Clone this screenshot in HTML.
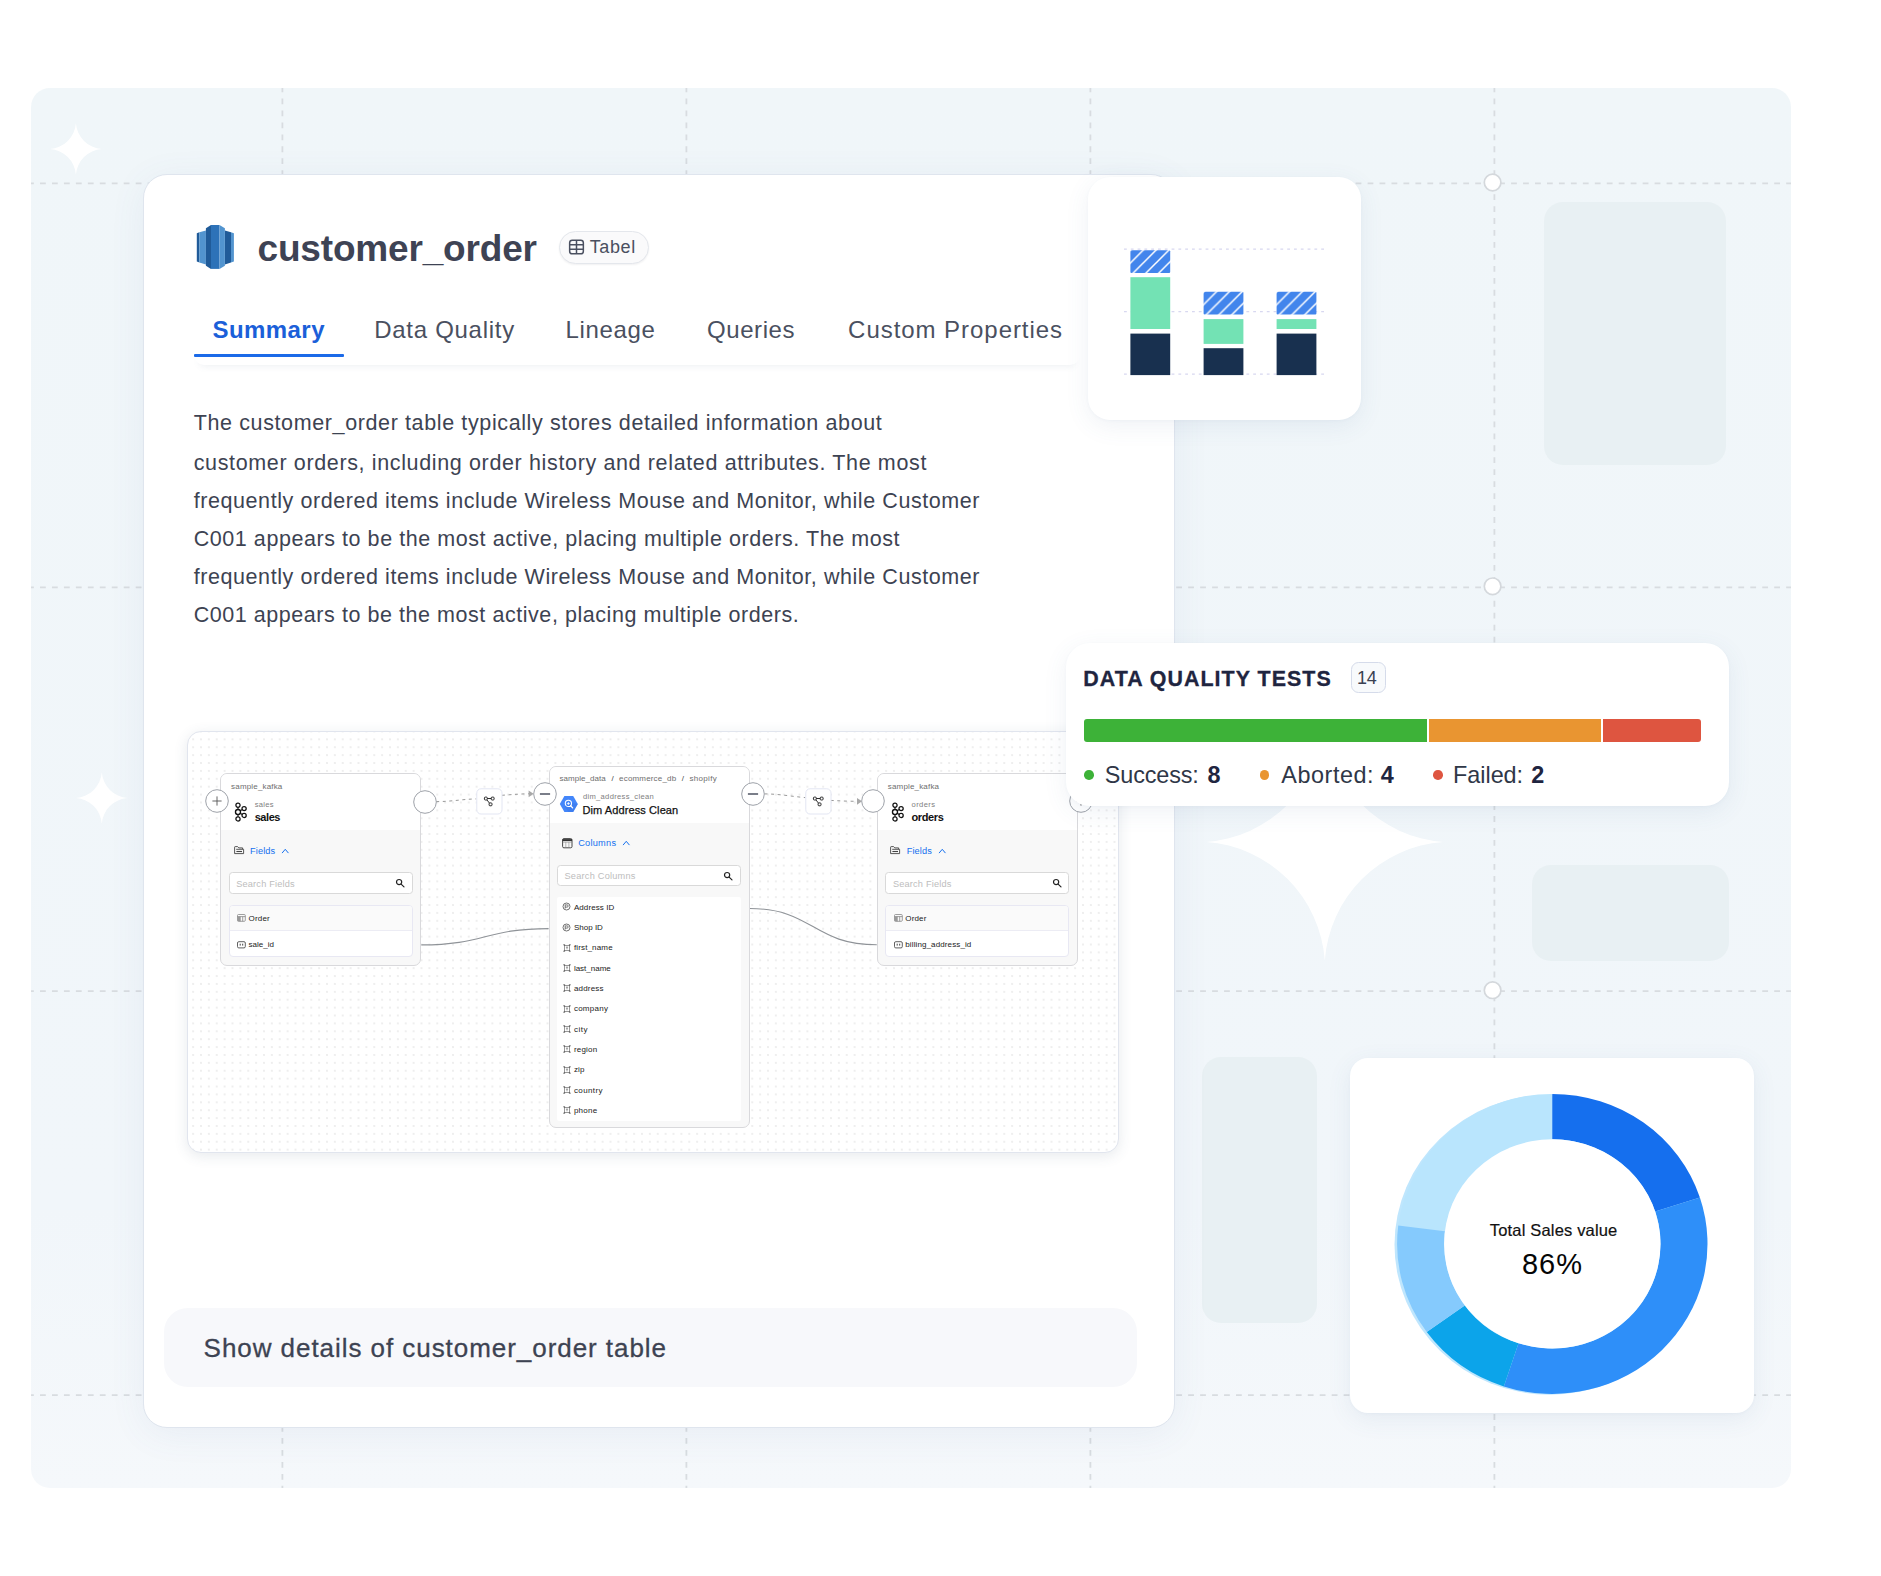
<!DOCTYPE html>
<html lang="en">
<head>
<meta charset="utf-8">
<title>customer_order</title>
<style>
*{box-sizing:border-box;margin:0;padding:0}
html,body{width:1881px;height:1576px;background:#fff;overflow:hidden}
body{position:relative;font-family:"Liberation Sans",sans-serif;color:#3d4352}
.abs{position:absolute}
.t{position:absolute;white-space:pre;line-height:1}
#panel{left:30.5px;top:87.5px;width:1760.5px;height:1400px;border-radius:19px;background:linear-gradient(180deg,#f0f6f9 0%,#f1f6fa 80%,#f5f8fb 100%);overflow:hidden}
.grect{position:absolute;background:#e8f0f3;border-radius:19px}
#main{left:143px;top:174px;width:1031.5px;height:1253.5px;border-radius:24px;background:#fff;border:1px solid #dfe5ee;box-shadow:0 6px 36px rgba(80,110,160,.075)}
#tabs{left:194px;top:300px;width:886px;height:64.5px;border-radius:0 0 10px 10px;background:#fff;box-shadow:0 7px 7px -6px rgba(100,120,150,.12)}
.pill{left:559px;top:230.5px;width:89.5px;height:33px;border-radius:17px;border:1px solid #e4e7ec;background:#fafafb;box-shadow:0 1px 2px rgba(16,24,40,.06)}
#showbox{left:164.2px;top:1307.5px;width:973px;height:79.5px;border-radius:24px;background:#f7f8fb}
#lin{left:187px;top:731px;width:931.5px;height:422px;border-radius:14px;border:1px solid #e1e5ee;background-color:#fff;background-image:radial-gradient(circle,#c6c6c6 0.45px,rgba(198,198,198,0) 0.8px);background-size:7.885px 7.9px;background-position:1.2px 3.4px;box-shadow:0 3px 14px rgba(60,80,110,.12)}
.node{border:1.3px solid #d9d9dc;border-radius:7px;background:#f8f8f8;overflow:hidden}
.nh{background:#fff}
.sbox{border:1px solid #d9d9d9;border-radius:3.5px;background:#fff}
.lbox{border:1px solid #e8e8f3;border-radius:4px;background:#fff;overflow:hidden}
.card{background:#fff;box-shadow:0 6px 24px rgba(70,100,150,.085),0 1px 3px rgba(70,100,150,.04)}
</style>
</head>
<body>
<!-- background panel -->
<div id="panel" class="abs">
<svg class="abs" style="left:0;top:0" width="1761" height="1400" viewBox="30.5 87.5 1761 1400">
<g stroke="#d8dce0" stroke-width="1.8" fill="none" stroke-dasharray="5.8 6.16">
<path d="M281.9 86.05V1489M685.9 86.05V1489M1089.9 86.05V1489M1493.9 86.05V1489"/>
<path d="M27.55 182.8H1793M27.55 586.8H1793M27.55 990.7H1793M27.55 1394.7H1793"/>
</g>
<g fill="#fff" stroke="#d4d8dc" stroke-width="1.7">
<circle cx="1492.1" cy="182" r="8.3"/><circle cx="1492.1" cy="585.8" r="8.3"/><circle cx="1492.1" cy="989.7" r="8.3"/>
</g>
<g fill="#fff">
<path d="M75.4 122.7A27.86 27.86 0 0 0 101.2 148.5A27.86 27.86 0 0 0 75.4 174.3A27.86 27.86 0 0 0 49.60000000000001 148.5A27.86 27.86 0 0 0 75.4 122.7Z"/>
<path d="M101.3 771.7A27.86 27.86 0 0 0 127.1 797.5A27.86 27.86 0 0 0 101.3 823.3A27.86 27.86 0 0 0 75.5 797.5A27.86 27.86 0 0 0 101.3 771.7Z"/>
<path d="M1324.3 722.9A127.98 127.98 0 0 0 1442.8 841.4A127.98 127.98 0 0 0 1324.3 959.9A127.98 127.98 0 0 0 1205.8 841.4A127.98 127.98 0 0 0 1324.3 722.9Z"/>
</g>
</svg>
<div class="grect" style="left:1513px;top:114px;width:182.5px;height:263.5px"></div>
<div class="grect" style="left:1501.3px;top:777px;width:197.2px;height:96.2px"></div>
<div class="grect" style="left:1171.3px;top:969.6px;width:115.5px;height:266px"></div>
</div>

<!-- main card -->
<div id="main" class="abs"></div>
<div id="tabs" class="abs"></div>

<svg class="abs" style="left:196px;top:224px" width="40" height="46" viewBox="196 224 40 46">
<polygon points="196.8,233.2 199.4,232.2 199.4,262.6 196.8,261.6" fill="#205b99"/>
<polygon points="199.4,232.2 205.9,230.4 205.9,264.4 199.4,262.6" fill="#5294cf"/>
<polygon points="224.9,230.4 231,232.2 231,262.6 224.9,264.4" fill="#205b99"/>
<polygon points="231,232.2 233.9,233.2 233.9,261.6 231,262.6" fill="#5294cf"/>
<polygon points="205.9,228.2 211,225 211,268.9 205.9,265.7" fill="#205b99"/>
<polygon points="211,225 219.5,225 219.5,268.9 211,268.9" fill="#2d72b8"/>
<polygon points="219.5,225 224.9,228.2 224.9,265.7 219.5,268.9" fill="#5294cf"/>
</svg>
<div class="t" style="left:257.50px;top:230.00px;font-size:37px;color:#3e4354;font-weight:700;letter-spacing:-0.171px;">customer_order</div>
<div class="abs pill"></div>
<svg class="abs" style="left:567px;top:238px" width="19" height="18" viewBox="567 238 19 18" fill="none" stroke="#4a5060" stroke-width="1.5">
<rect x="569.65" y="240.15" width="13.7" height="13.7" rx="2.6"/><path d="M569.65 244.7H583.35M569.65 249.3H583.35M576.5 240.15V253.85"/></svg>
<div class="t" style="left:589.70px;top:238.00px;font-size:18px;color:#4a5060;letter-spacing:0.617px;">Tabel</div>
<div class="t" style="left:212.50px;top:318.00px;font-size:24px;color:#1b5fd9;font-weight:700;letter-spacing:0.435px;">Summary</div>
<div class="t" style="left:374.20px;top:318.00px;font-size:24px;color:#4a5060;letter-spacing:0.722px;">Data Quality</div>
<div class="t" style="left:565.40px;top:318.00px;font-size:24px;color:#4a5060;letter-spacing:0.680px;">Lineage</div>
<div class="t" style="left:707.00px;top:318.00px;font-size:24px;color:#4a5060;letter-spacing:0.576px;">Queries</div>
<div class="t" style="left:848.10px;top:318.00px;font-size:24px;color:#4a5060;letter-spacing:0.953px;">Custom Properties</div>
<div class="abs" style="left:194px;top:354px;width:150.3px;height:3px;background:#1b6ae8;border-radius:1px"></div>
<div class="t" style="left:193.70px;top:413.00px;font-size:21.5px;color:#3d4352;letter-spacing:0.620px;">The customer_order table typically stores detailed information about</div>
<div class="t" style="left:193.70px;top:453.00px;font-size:21.5px;color:#3d4352;letter-spacing:0.638px;">customer orders, including order history and related attributes. The most</div>
<div class="t" style="left:193.70px;top:491.00px;font-size:21.5px;color:#3d4352;letter-spacing:0.575px;">frequently ordered items include Wireless Mouse and Monitor, while Customer</div>
<div class="t" style="left:193.70px;top:529.00px;font-size:21.5px;color:#3d4352;letter-spacing:0.562px;">C001 appears to be the most active, placing multiple orders. The most</div>
<div class="t" style="left:193.70px;top:567.00px;font-size:21.5px;color:#3d4352;letter-spacing:0.575px;">frequently ordered items include Wireless Mouse and Monitor, while Customer</div>
<div class="t" style="left:193.70px;top:605.00px;font-size:21.5px;color:#3d4352;letter-spacing:0.552px;">C001 appears to be the most active, placing multiple orders.</div>
<div id="showbox" class="abs"></div>
<div class="t" style="left:203.60px;top:1335.00px;font-size:26px;color:#3d4352;letter-spacing:0.948px;-webkit-text-stroke:0.3px #3d4352;">Show details of customer_order table</div>

<div class="abs" id="lin"></div>
<svg class="abs" style="left:187px;top:731px" width="932" height="423" viewBox="187 731 932 423" fill="none">
<path d="M421.3 944.9C485 944.9 485 928.6 548.6 928.6" stroke="#8f9398" stroke-width="1.1"/>
<path d="M749.7 908.5C813 908.5 813 944.8 876.8 944.8" stroke="#8f9398" stroke-width="1.1"/>
<path d="M436 801.6C452 801.6 462 799.2 476.3 798.9" stroke="#999" stroke-width="1" stroke-dasharray="3 3.6"/>
<path d="M501.7 795.3C512 794.6 520 793.9 529 793.8" stroke="#999" stroke-width="1" stroke-dasharray="3 3.6"/>
<path d="M528.6 790.4L533.6 793.8L528.6 797.2Z" fill="#a8a8a8"/>
<path d="M764.4 793.9C780 794 792 796.5 805.3 797.6" stroke="#999" stroke-width="1" stroke-dasharray="3 3.6"/>
<path d="M830.6 800.4C842 801 850 801.3 857.5 801.3" stroke="#999" stroke-width="1" stroke-dasharray="3 3.6"/>
<path d="M857 797.9L862 801.3L857 804.7Z" fill="#a8a8a8"/>
</svg>
<div class="abs node" style="left:220.1px;top:773.2px;width:201.1px;height:193.1px"><div class="nh" style="height:56.2px"></div></div>
<div class="t" style="left:231.10px;top:783.00px;font-size:8px;color:#6e6e6e;letter-spacing:0.167px;">sample_kafka</div>
<svg class="abs" style="left:232.85px;top:800.6px" width="16" height="22" viewBox="-5 -11 16 22" fill="#fff" stroke="#111" stroke-width="1.25">
<path d="M0 -6.7V6.8M0 0L6.1 -3.4M0 0L6.1 3.4" fill="none" stroke-width="1.1"/>
<circle cx="0" cy="-6.7" r="2.1"/><circle cx="0" cy="6.9" r="2.1"/><circle cx="6.1" cy="-3.4" r="2.1"/><circle cx="6.1" cy="3.4" r="2.1"/><circle cx="0" cy="0" r="2.5" stroke-width="1.4"/></svg>
<div class="t" style="left:254.80px;top:801.00px;font-size:7.6px;color:#808080;letter-spacing:0.266px;">sales</div>
<div class="t" style="left:254.70px;top:812.00px;font-size:11px;color:#111;font-weight:700;letter-spacing:-0.433px;">sales</div>
<svg class="abs" style="left:233.6px;top:846.2px" width="11" height="9" viewBox="0 0 11 9" fill="none" stroke="#444" stroke-width="0.9" stroke-linejoin="round"><path d="M0.6 7.6V1.2a.6.6 0 0 1 .6-.6H3.6L4.8 1.9H8.6V3.2"/><path d="M0.6 7.6H9.6V3.3H2.2"/><path d="M2.4 5.5H8" stroke-width="1.1"/></svg>
<div class="t" style="left:250.00px;top:847.00px;font-size:9.2px;color:#1570ef;letter-spacing:0.137px;">Fields</div>
<svg class="abs" style="left:280.9px;top:847.5px" width="9" height="7" viewBox="-1 -1 9 7" fill="none" stroke="#1570ef" stroke-width="1" stroke-linecap="round" stroke-linejoin="round"><path d="M0.3 3.8L3.25 0.3L6.2 3.8"/></svg>
<div class="abs sbox" style="left:228.5px;top:872.3px;width:184.2px;height:21.3px"></div>
<div class="t" style="left:236.20px;top:880.00px;font-size:9.2px;color:#bdbdbd;letter-spacing:0.194px;">Search Fields</div>
<svg class="abs" style="left:394.8px;top:878.2px" width="11" height="11" viewBox="-1 -1 11 11" fill="none" stroke="#222" stroke-width="1.2"><circle cx="3.1" cy="3.1" r="2.6"/><path d="M5.1 5.1L8 7.9" stroke-linecap="round"/></svg>
<div class="abs lbox" style="left:228.5px;top:904.5px;width:184.2px;height:52.9px"><div style="height:25.5px;background:#fafafa;border-bottom:1px solid #ececf4"></div></div>
<svg class="abs" style="left:237.4px;top:914px" width="9" height="8" viewBox="0 0 9 8" fill="none" stroke="#888" stroke-width="0.8"><rect x="0.5" y="0.5" width="7.8" height="6.8" rx="1"/><path d="M0.5 2.6H8.3M3.2 2.6V7.3M5.7 2.6V7.3"/><rect x="0.6" y="2.6" width="2.6" height="4.6" fill="#999" stroke="none"/></svg>
<div class="t" style="left:248.60px;top:915.00px;font-size:8px;color:#222;letter-spacing:0.162px;">Order</div>
<svg class="abs" style="left:237.4px;top:940.7px" width="9" height="8" viewBox="0 0 9 8" fill="none" stroke="#444" stroke-width="0.85"><rect x="0.5" y="0.7" width="7.8" height="6.2" rx="1.3"/><path d="M3.2 2.7V4.6M5.7 2.7V4.6" stroke-width="1"/></svg>
<div class="t" style="left:248.60px;top:941.00px;font-size:8px;color:#222;letter-spacing:0.007px;">sale_id</div>
<div class="abs node" style="left:876.8px;top:773.2px;width:201.1px;height:193.1px"><div class="nh" style="height:56.2px"></div></div>
<div class="t" style="left:887.80px;top:783.00px;font-size:8px;color:#6e6e6e;letter-spacing:0.167px;">sample_kafka</div>
<svg class="abs" style="left:889.55px;top:800.6px" width="16" height="22" viewBox="-5 -11 16 22" fill="#fff" stroke="#111" stroke-width="1.25">
<path d="M0 -6.7V6.8M0 0L6.1 -3.4M0 0L6.1 3.4" fill="none" stroke-width="1.1"/>
<circle cx="0" cy="-6.7" r="2.1"/><circle cx="0" cy="6.9" r="2.1"/><circle cx="6.1" cy="-3.4" r="2.1"/><circle cx="6.1" cy="3.4" r="2.1"/><circle cx="0" cy="0" r="2.5" stroke-width="1.4"/></svg>
<div class="t" style="left:911.50px;top:801.00px;font-size:7.6px;color:#808080;letter-spacing:0.414px;">orders</div>
<div class="t" style="left:911.40px;top:812.00px;font-size:11px;color:#111;font-weight:700;letter-spacing:-0.350px;">orders</div>
<svg class="abs" style="left:890.3px;top:846.2px" width="11" height="9" viewBox="0 0 11 9" fill="none" stroke="#444" stroke-width="0.9" stroke-linejoin="round"><path d="M0.6 7.6V1.2a.6.6 0 0 1 .6-.6H3.6L4.8 1.9H8.6V3.2"/><path d="M0.6 7.6H9.6V3.3H2.2"/><path d="M2.4 5.5H8" stroke-width="1.1"/></svg>
<div class="t" style="left:906.70px;top:847.00px;font-size:9.2px;color:#1570ef;letter-spacing:0.137px;">Fields</div>
<svg class="abs" style="left:937.5999999999999px;top:847.5px" width="9" height="7" viewBox="-1 -1 9 7" fill="none" stroke="#1570ef" stroke-width="1" stroke-linecap="round" stroke-linejoin="round"><path d="M0.3 3.8L3.25 0.3L6.2 3.8"/></svg>
<div class="abs sbox" style="left:885.1999999999999px;top:872.3px;width:184.2px;height:21.3px"></div>
<div class="t" style="left:892.90px;top:880.00px;font-size:9.2px;color:#bdbdbd;letter-spacing:0.194px;">Search Fields</div>
<svg class="abs" style="left:1051.5px;top:878.2px" width="11" height="11" viewBox="-1 -1 11 11" fill="none" stroke="#222" stroke-width="1.2"><circle cx="3.1" cy="3.1" r="2.6"/><path d="M5.1 5.1L8 7.9" stroke-linecap="round"/></svg>
<div class="abs lbox" style="left:885.1999999999999px;top:904.5px;width:184.2px;height:52.9px"><div style="height:25.5px;background:#fafafa;border-bottom:1px solid #ececf4"></div></div>
<svg class="abs" style="left:894.0999999999999px;top:914px" width="9" height="8" viewBox="0 0 9 8" fill="none" stroke="#888" stroke-width="0.8"><rect x="0.5" y="0.5" width="7.8" height="6.8" rx="1"/><path d="M0.5 2.6H8.3M3.2 2.6V7.3M5.7 2.6V7.3"/><rect x="0.6" y="2.6" width="2.6" height="4.6" fill="#999" stroke="none"/></svg>
<div class="t" style="left:905.30px;top:915.00px;font-size:8px;color:#222;letter-spacing:0.162px;">Order</div>
<svg class="abs" style="left:894.0999999999999px;top:940.7px" width="9" height="8" viewBox="0 0 9 8" fill="none" stroke="#444" stroke-width="0.85"><rect x="0.5" y="0.7" width="7.8" height="6.2" rx="1.3"/><path d="M3.2 2.7V4.6M5.7 2.7V4.6" stroke-width="1"/></svg>
<div class="t" style="left:905.30px;top:941.00px;font-size:8px;color:#222;letter-spacing:0.115px;">billing_address_id</div>
<div class="abs node" style="left:548.6px;top:766.3px;width:201.1px;height:362px"><div class="nh" style="height:55.6px"></div></div>
<div class="t" style="left:559.40px;top:775.00px;font-size:8px;color:#6e6e6e;letter-spacing:0.059px;">sample_data</div>
<div class="t" style="left:611.40px;top:775.00px;font-size:8px;color:#444;">/</div>
<div class="t" style="left:619.10px;top:775.00px;font-size:8px;color:#6e6e6e;letter-spacing:0.169px;">ecommerce_db</div>
<div class="t" style="left:681.80px;top:775.00px;font-size:8px;color:#444;">/</div>
<div class="t" style="left:689.50px;top:775.00px;font-size:8px;color:#6e6e6e;letter-spacing:0.307px;">shopify</div>
<svg class="abs" style="left:559px;top:795px" width="20" height="18" viewBox="0 0 20 18"><path d="M5.4 0.9H14.2L18.8 8.9L14.2 16.9H5.4L0.8 8.9Z" fill="#4386fa"/><path d="M14.2 16.9H9.5L5.8 11.5L12.6 8L18.8 8.9Z" fill="#3b78e7" opacity=".55"/><circle cx="9.4" cy="8.4" r="3.1" fill="none" stroke="#fff" stroke-width="1.1"/><path d="M11.6 10.8L13.6 12.9" stroke="#fff" stroke-width="1.3" stroke-linecap="round"/><path d="M7.9 8.6H10.9M9.4 7.1V9.9" stroke="#fff" stroke-width="0.8"/></svg>
<div class="t" style="left:582.90px;top:793.00px;font-size:7.6px;color:#808080;letter-spacing:0.309px;">dim_address_clean</div>
<div class="t" style="left:582.40px;top:805.00px;font-size:11px;color:#111;letter-spacing:0.103px;-webkit-text-stroke:0.25px #111;">Dim Address Clean</div>
<svg class="abs" style="left:561.7px;top:837.7px" width="11" height="11" viewBox="0 0 11 11" fill="none" stroke="#333" stroke-width="0.9"><rect x="0.6" y="0.6" width="9.4" height="9.2" rx="1.3"/><path d="M0.6 2.1H10" stroke-width="2"/><path d="M0.6 4.2H10M3.8 4.2V9.8M6.9 4.2V9.8" stroke-width="0.6" stroke="#888"/></svg>
<div class="t" style="left:578.20px;top:839.00px;font-size:9.2px;color:#1570ef;letter-spacing:0.256px;">Columns</div>
<svg class="abs" style="left:621.6px;top:839.6px" width="9" height="7" viewBox="-1 -1 9 7" fill="none" stroke="#1570ef" stroke-width="1" stroke-linecap="round" stroke-linejoin="round"><path d="M0.3 3.8L3.25 0.3L6.2 3.8"/></svg>
<div class="abs sbox" style="left:557.3px;top:865.1px;width:183.4px;height:21px"></div>
<div class="t" style="left:564.50px;top:872.00px;font-size:9.2px;color:#bdbdbd;letter-spacing:0.229px;">Search Columns</div>
<svg class="abs" style="left:722.8px;top:870.6px" width="11" height="11" viewBox="-1 -1 11 11" fill="none" stroke="#222" stroke-width="1.2"><circle cx="3.1" cy="3.1" r="2.6"/><path d="M5.1 5.1L8 7.9" stroke-linecap="round"/></svg>
<div class="abs" style="left:557.3px;top:896.8px;width:183.4px;height:224px;background:#fff;border-radius:2px"></div>
<svg class="abs" style="left:562.3px;top:902.3px" width="9" height="9" viewBox="-4.5 -4.5 9 9" fill="none" stroke="#444" stroke-width="0.75"><circle r="3.5"/><path d="M-1.3 -1.7V2M-1.3 -1.6H0.6a1.1 1.1 0 0 1 0 2.2H-1.3" stroke-width="0.7"/></svg>
<div class="t" style="left:573.90px;top:904.00px;font-size:8px;color:#222;letter-spacing:0.091px;">Address ID</div>
<svg class="abs" style="left:562.3px;top:922.63px" width="9" height="9" viewBox="-4.5 -4.5 9 9" fill="none" stroke="#444" stroke-width="0.75"><circle r="3.5"/><path d="M-1.3 -1.7V2M-1.3 -1.6H0.6a1.1 1.1 0 0 1 0 2.2H-1.3" stroke-width="0.7"/></svg>
<div class="t" style="left:573.90px;top:924.00px;font-size:8px;color:#222;letter-spacing:0.016px;">Shop ID</div>
<svg class="abs" style="left:563px;top:943.56px" width="8" height="8" viewBox="0 0 8 8" fill="none" stroke="#555" stroke-width="0.6"><rect x="1.3" y="1.3" width="5.4" height="5.4"/><path d="M0.3 0.8H2.1M5.9 0.8H7.7M0.3 7.2H2.1M5.9 7.2H7.7" stroke-width="0.9"/><path d="M2.9 3.1H5.1M4 3.1V5.3" stroke-width="0.6"/></svg>
<div class="t" style="left:573.90px;top:944.00px;font-size:8px;color:#222;letter-spacing:0.149px;">first_name</div>
<svg class="abs" style="left:563px;top:963.89px" width="8" height="8" viewBox="0 0 8 8" fill="none" stroke="#555" stroke-width="0.6"><rect x="1.3" y="1.3" width="5.4" height="5.4"/><path d="M0.3 0.8H2.1M5.9 0.8H7.7M0.3 7.2H2.1M5.9 7.2H7.7" stroke-width="0.9"/><path d="M2.9 3.1H5.1M4 3.1V5.3" stroke-width="0.6"/></svg>
<div class="t" style="left:573.90px;top:965.00px;font-size:8px;color:#222;letter-spacing:-0.003px;">last_name</div>
<svg class="abs" style="left:563px;top:984.2199999999999px" width="8" height="8" viewBox="0 0 8 8" fill="none" stroke="#555" stroke-width="0.6"><rect x="1.3" y="1.3" width="5.4" height="5.4"/><path d="M0.3 0.8H2.1M5.9 0.8H7.7M0.3 7.2H2.1M5.9 7.2H7.7" stroke-width="0.9"/><path d="M2.9 3.1H5.1M4 3.1V5.3" stroke-width="0.6"/></svg>
<div class="t" style="left:573.90px;top:985.00px;font-size:8px;color:#222;letter-spacing:0.189px;">address</div>
<svg class="abs" style="left:563px;top:1004.55px" width="8" height="8" viewBox="0 0 8 8" fill="none" stroke="#555" stroke-width="0.6"><rect x="1.3" y="1.3" width="5.4" height="5.4"/><path d="M0.3 0.8H2.1M5.9 0.8H7.7M0.3 7.2H2.1M5.9 7.2H7.7" stroke-width="0.9"/><path d="M2.9 3.1H5.1M4 3.1V5.3" stroke-width="0.6"/></svg>
<div class="t" style="left:573.90px;top:1005.00px;font-size:8px;color:#222;letter-spacing:0.255px;">company</div>
<svg class="abs" style="left:563px;top:1024.8799999999999px" width="8" height="8" viewBox="0 0 8 8" fill="none" stroke="#555" stroke-width="0.6"><rect x="1.3" y="1.3" width="5.4" height="5.4"/><path d="M0.3 0.8H2.1M5.9 0.8H7.7M0.3 7.2H2.1M5.9 7.2H7.7" stroke-width="0.9"/><path d="M2.9 3.1H5.1M4 3.1V5.3" stroke-width="0.6"/></svg>
<div class="t" style="left:573.90px;top:1026.00px;font-size:8px;color:#222;letter-spacing:0.500px;">city</div>
<svg class="abs" style="left:563px;top:1045.2099999999998px" width="8" height="8" viewBox="0 0 8 8" fill="none" stroke="#555" stroke-width="0.6"><rect x="1.3" y="1.3" width="5.4" height="5.4"/><path d="M0.3 0.8H2.1M5.9 0.8H7.7M0.3 7.2H2.1M5.9 7.2H7.7" stroke-width="0.9"/><path d="M2.9 3.1H5.1M4 3.1V5.3" stroke-width="0.6"/></svg>
<div class="t" style="left:573.90px;top:1046.00px;font-size:8px;color:#222;letter-spacing:0.210px;">region</div>
<svg class="abs" style="left:563px;top:1065.54px" width="8" height="8" viewBox="0 0 8 8" fill="none" stroke="#555" stroke-width="0.6"><rect x="1.3" y="1.3" width="5.4" height="5.4"/><path d="M0.3 0.8H2.1M5.9 0.8H7.7M0.3 7.2H2.1M5.9 7.2H7.7" stroke-width="0.9"/><path d="M2.9 3.1H5.1M4 3.1V5.3" stroke-width="0.6"/></svg>
<div class="t" style="left:573.90px;top:1066.00px;font-size:8px;color:#222;letter-spacing:0.183px;">zip</div>
<svg class="abs" style="left:563px;top:1085.87px" width="8" height="8" viewBox="0 0 8 8" fill="none" stroke="#555" stroke-width="0.6"><rect x="1.3" y="1.3" width="5.4" height="5.4"/><path d="M0.3 0.8H2.1M5.9 0.8H7.7M0.3 7.2H2.1M5.9 7.2H7.7" stroke-width="0.9"/><path d="M2.9 3.1H5.1M4 3.1V5.3" stroke-width="0.6"/></svg>
<div class="t" style="left:573.90px;top:1087.00px;font-size:8px;color:#222;letter-spacing:0.394px;">country</div>
<svg class="abs" style="left:563px;top:1106.1999999999998px" width="8" height="8" viewBox="0 0 8 8" fill="none" stroke="#555" stroke-width="0.6"><rect x="1.3" y="1.3" width="5.4" height="5.4"/><path d="M0.3 0.8H2.1M5.9 0.8H7.7M0.3 7.2H2.1M5.9 7.2H7.7" stroke-width="0.9"/><path d="M2.9 3.1H5.1M4 3.1V5.3" stroke-width="0.6"/></svg>
<div class="t" style="left:573.90px;top:1107.00px;font-size:8px;color:#222;letter-spacing:0.263px;">phone</div>
<svg class="abs" style="left:203.5px;top:788.4px" width="26" height="26" viewBox="-13 -13 26 26"><circle r="11.3" fill="#fff" stroke="#9ea2a9" stroke-width="1"/><path d="M-4.6 0H4.6M0 -4.6V4.6" stroke="#555" stroke-width="0.9" fill="none"/></svg>
<svg class="abs" style="left:411.5px;top:788.5px" width="26" height="26" viewBox="-13 -13 26 26"><circle r="11.3" fill="#fff" stroke="#9ea2a9" stroke-width="1"/></svg>
<svg class="abs" style="left:531.8px;top:780.8px" width="26" height="26" viewBox="-13 -13 26 26"><circle r="11.3" fill="#fff" stroke="#9ea2a9" stroke-width="1"/><path d="M-5.1 0H5.1" stroke="#3a4050" stroke-width="1.35" fill="none"/></svg>
<svg class="abs" style="left:739.9px;top:780.8px" width="26" height="26" viewBox="-13 -13 26 26"><circle r="11.3" fill="#fff" stroke="#9ea2a9" stroke-width="1"/><path d="M-5.1 0H5.1" stroke="#3a4050" stroke-width="1.35" fill="none"/></svg>
<svg class="abs" style="left:860.2px;top:788.4px" width="26" height="26" viewBox="-13 -13 26 26"><circle r="11.3" fill="#fff" stroke="#9ea2a9" stroke-width="1"/></svg>
<svg class="abs" style="left:1068.2px;top:788.4px" width="26" height="26" viewBox="-13 -13 26 26"><circle r="11.3" fill="#fff" stroke="#9ea2a9" stroke-width="1"/><path d="M-4.6 0H4.6M0 -4.6V4.6" stroke="#555" stroke-width="0.9" fill="none"/></svg>
<svg class="abs" style="left:475.5px;top:788.3px" width="27" height="27" viewBox="0 0 27 27"><rect x="0.8" y="0.8" width="25.2" height="25.2" rx="4.2" fill="#fff" stroke="#e3e6f3" stroke-width="1"/>
<g fill="#fff" stroke="#222" stroke-width="0.95"><path d="M10.7 10.5H15.6M10.2 11L14.2 16" fill="none"/><rect x="8.4" y="9.1" width="2.9" height="2.9" rx="0.9"/><rect x="15.2" y="9.1" width="2.9" height="2.9" rx="0.9"/><rect x="13.1" y="14.9" width="2.9" height="2.9" rx="0.9"/></g></svg>
<svg class="abs" style="left:804.5px;top:788.3px" width="27" height="27" viewBox="0 0 27 27"><rect x="0.8" y="0.8" width="25.2" height="25.2" rx="4.2" fill="#fff" stroke="#e3e6f3" stroke-width="1"/>
<g fill="#fff" stroke="#222" stroke-width="0.95"><path d="M10.7 10.5H15.6M10.2 11L14.2 16" fill="none"/><rect x="8.4" y="9.1" width="2.9" height="2.9" rx="0.9"/><rect x="15.2" y="9.1" width="2.9" height="2.9" rx="0.9"/><rect x="13.1" y="14.9" width="2.9" height="2.9" rx="0.9"/></g></svg>

<div class="abs card" style="left:1088px;top:177px;width:272.5px;height:243px;border-radius:22px"></div>
<svg class="abs" style="left:1088px;top:177px" width="273" height="243" viewBox="1088 177 273 243">
<defs><pattern id="hat" width="12.8" height="12.8" patternUnits="userSpaceOnUse" patternTransform="translate(1130.4 250.2)"><rect width="12.8" height="12.8" fill="#4285ec"/><path d="M-2 14.8L14.8 -2M-2 2L2 -2M10.8 14.8L14.8 10.8" stroke="#fff" stroke-width="1.5"/></pattern>
<pattern id="hat2" width="12.8" height="12.8" patternUnits="userSpaceOnUse" patternTransform="translate(1203.6 291.8)"><rect width="12.8" height="12.8" fill="#4285ec"/><path d="M-2 14.8L14.8 -2M-2 2L2 -2M10.8 14.8L14.8 10.8" stroke="#fff" stroke-width="1.5"/></pattern>
<pattern id="hat3" width="12.8" height="12.8" patternUnits="userSpaceOnUse" patternTransform="translate(1276.6 291.8)"><rect width="12.8" height="12.8" fill="#4285ec"/><path d="M-2 14.8L14.8 -2M-2 2L2 -2M10.8 14.8L14.8 10.8" stroke="#fff" stroke-width="1.5"/></pattern></defs>
<path d="M1124 249.1H1326M1124 311.6H1326M1124 374.2H1326" stroke="#d8d8f0" stroke-width="1.2" stroke-dasharray="2.8 4" fill="none"/>
<rect x="1130.4" y="250.2" width="39.8" height="22.8" rx="1" fill="url(#hat)"/>
<rect x="1130.4" y="277.2" width="39.8" height="51.8" fill="#73e2b4"/>
<rect x="1130.4" y="333.6" width="39.8" height="41.5" fill="#18304f"/>
<rect x="1203.6" y="291.8" width="39.8" height="22.8" rx="1" fill="url(#hat2)"/>
<rect x="1203.6" y="319.1" width="39.8" height="24.8" fill="#73e2b4"/>
<rect x="1203.6" y="348.2" width="39.8" height="26.9" fill="#18304f"/>
<rect x="1276.6" y="291.8" width="39.8" height="22.8" rx="1" fill="url(#hat3)"/>
<rect x="1276.6" y="319.1" width="39.8" height="9.9" fill="#73e2b4"/>
<rect x="1276.6" y="333.6" width="39.8" height="41.5" fill="#18304f"/>
</svg>

<div class="abs card" style="left:1066px;top:642.5px;width:1662.5px;height:163.2px;border-radius:24px;width:662.5px"></div>
<div class="t" style="left:1083.30px;top:669.00px;font-size:21.4px;color:#1f2540;font-weight:700;letter-spacing:1.038px;-webkit-text-stroke:0.3px #1f2540;">DATA QUALITY TESTS</div>
<div class="abs" style="left:1350.5px;top:661.7px;width:35.8px;height:31.3px;border:1.3px solid #d5dbea;border-radius:7.5px;background:#f8fafc"></div>
<div class="t" style="left:1357.10px;top:669.00px;font-size:18px;color:#3a4152;letter-spacing:-0.431px;">14</div>
<div class="abs" style="left:1084.1px;top:719.3px;width:343.1px;height:22.4px;background:#3db238;border-radius:3px 0 0 3px"></div>
<div class="abs" style="left:1429.4px;top:719.3px;width:171.3px;height:22.4px;background:#e99531"></div>
<div class="abs" style="left:1602.9px;top:719.3px;width:98px;height:22.4px;background:#de5540;border-radius:0 3px 3px 0"></div>
<div class="abs" style="left:1084.2px;top:770.3000000000001px;width:9.6px;height:9.6px;border-radius:50%;background:#3db238"></div>
<div class="abs" style="left:1259.5px;top:770.3000000000001px;width:9.6px;height:9.6px;border-radius:50%;background:#e99531"></div>
<div class="abs" style="left:1433.1000000000001px;top:770.3000000000001px;width:9.6px;height:9.6px;border-radius:50%;background:#de5540"></div>
<div class="t" style="left:1104.80px;top:764.00px;font-size:23.4px;color:#2f3747;letter-spacing:-0.129px;">Success:</div>
<div class="t" style="left:1207.40px;top:764.00px;font-size:23.4px;color:#1f2540;font-weight:700;">8</div>
<div class="t" style="left:1281.30px;top:764.00px;font-size:23.4px;color:#2f3747;letter-spacing:0.552px;">Aborted:</div>
<div class="t" style="left:1380.80px;top:764.00px;font-size:23.4px;color:#1f2540;font-weight:700;">4</div>
<div class="t" style="left:1453.10px;top:764.00px;font-size:23.4px;color:#2f3747;letter-spacing:-0.036px;">Failed:</div>
<div class="t" style="left:1531.30px;top:764.00px;font-size:23.4px;color:#1f2540;font-weight:700;">2</div>

<div class="abs card" style="left:1349.6px;top:1058px;width:404px;height:354.5px;border-radius:18px"></div>
<svg class="abs" style="left:1380px;top:1080px" width="345" height="325" viewBox="1380 1080 345 325"><ellipse cx="1549.7" cy="1244.7" rx="155.2" ry="150.0" fill="#bfe6fd"/><path d="M1398.26 1225.62A155.2 150.0 0 0 1 1552.30 1093.90L1552.30 1139.30A108.2 104.6 0 0 0 1444.91 1231.15Z" fill="#b9e5fd"/><path d="M1552.30 1093.90A155.2 150.0 0 0 1 1699.90 1197.55L1655.20 1211.58A108.2 104.6 0 0 0 1552.30 1139.30Z" fill="#156fee"/><path d="M1699.90 1197.55A155.2 150.0 0 0 1 1503.83 1386.40L1518.51 1343.27A108.2 104.6 0 0 0 1655.20 1211.58Z" fill="#2e8ff9"/><path d="M1503.83 1386.40A155.2 150.0 0 0 1 1426.74 1332.07L1464.76 1305.38A108.2 104.6 0 0 0 1518.51 1343.27Z" fill="#0ca4ea"/><path d="M1426.74 1332.07A155.2 150.0 0 0 1 1398.26 1225.62L1444.91 1231.15A108.2 104.6 0 0 0 1464.76 1305.38Z" fill="#85cafd"/><ellipse cx="1552.3" cy="1243.9" rx="108.2" ry="104.6" fill="#fff"/></svg>
<div class="t" style="left:1489.80px;top:1222.00px;font-size:16.5px;color:#111;letter-spacing:0.172px;-webkit-text-stroke:0.2px #111;">Total Sales value</div>
<div class="t" style="left:1522.00px;top:1250.00px;font-size:29px;color:#050505;letter-spacing:0.977px;">86%</div>

</body>
</html>
